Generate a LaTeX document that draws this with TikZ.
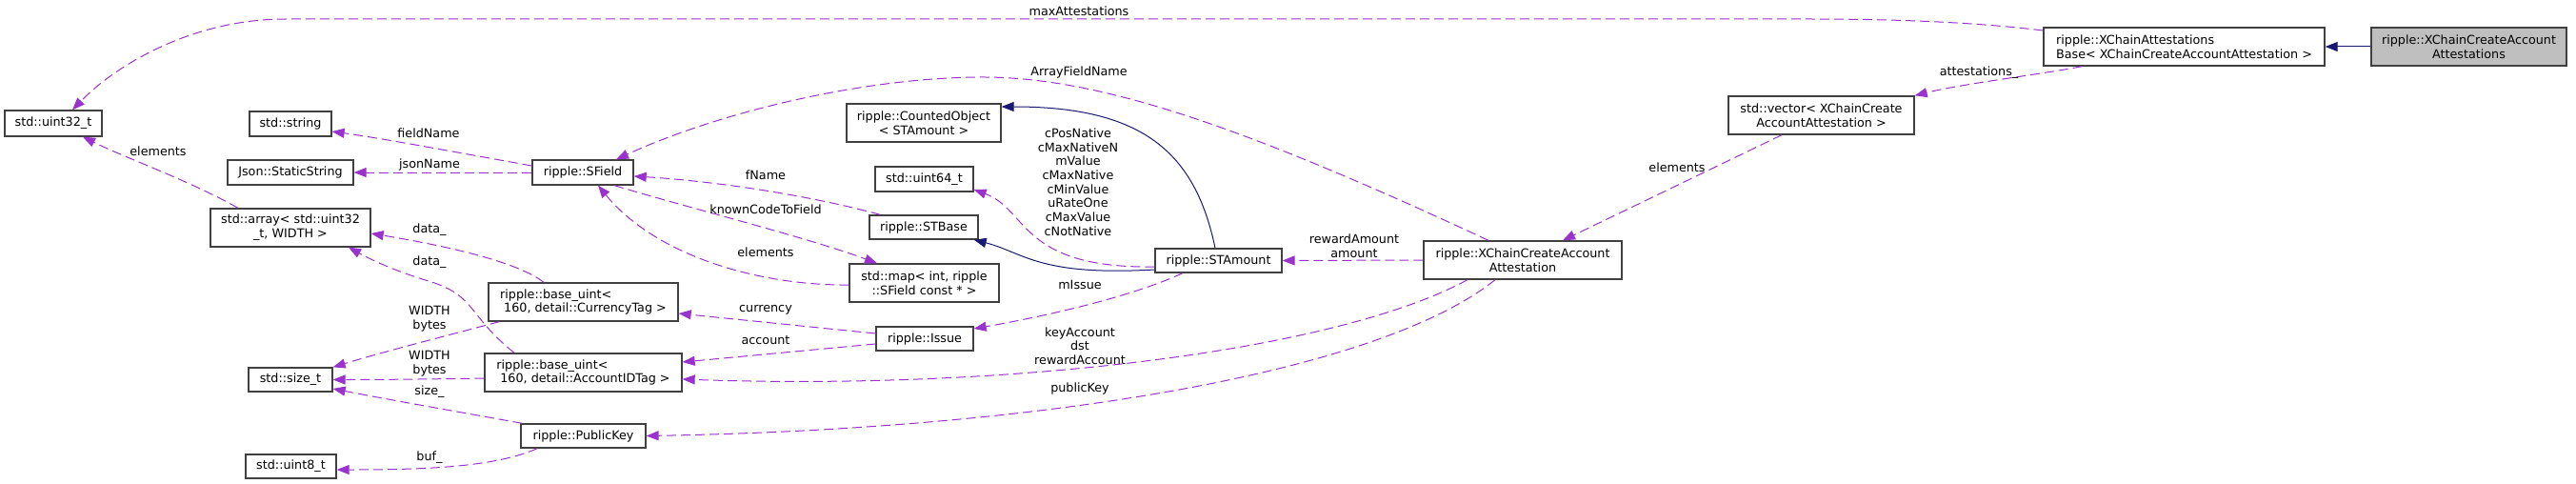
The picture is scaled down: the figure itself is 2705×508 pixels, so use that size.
\documentclass[tikz,border=0pt]{standalone}
\usepackage{fontspec}
\setmainfont{DejaVu Sans}
\usetikzlibrary{arrows.meta,calc}
\definecolor{edgep}{HTML}{9A32CD}
\definecolor{edgeb}{HTML}{191970}
\definecolor{boxline}{HTML}{404040}
\definecolor{greyfill}{HTML}{BFBFBF}
\begin{document}
\begin{tikzpicture}[x=1pt,y=-1pt,
  every node/.style={font=\fontsize{12.75}{14.7}\selectfont},
  cls/.style={draw=boxline, line width=1.3pt, fill=white, inner sep=0pt, align=center},
  dep/.style={draw=edgep, line width=1pt, dash pattern=on 10pt off 5pt, -{Triangle[length=13pt,width=10pt]}},
  inh/.style={draw=edgeb, line width=1pt, -{Triangle[length=13pt,width=10pt]}},
  lbl/.style={inner sep=0pt, align=center}]
\useasboundingbox[fill=white] (0,0) rectangle (2705,508);

% nodes
\node[cls, fill=greyfill, minimum width=205pt, minimum height=40pt] (grey) at (2592.5,49) {ripple::XChainCreateAccount\\Attestations};
\node[cls, align=left, minimum width=295pt, minimum height=40pt] (base) at (2293.5,49) {ripple::XChainAttestations\\Base< XChainCreateAccountAttestation >};
\node[cls, minimum width=195pt, minimum height=40pt] (vector) at (1912.5,121) {std::vector< XChainCreate\\AccountAttestation >};
\node[cls, minimum width=208pt, minimum height=40pt] (attest) at (1599,273) {ripple::XChainCreateAccount\\Attestation};
\node[cls, minimum width=133pt, minimum height=25pt] (stamount) at (1279.5,273.5) {ripple::STAmount};
\node[cls, minimum width=162pt, minimum height=40pt] (counted) at (970,129) {ripple::CountedObject\\< STAmount >};
\node[cls, minimum width=103pt, minimum height=26pt] (uint64) at (970.5,188) {std::uint64\_t};
\node[cls, minimum width=114pt, minimum height=25pt] (stbase) at (970,238.5) {ripple::STBase};
\node[cls, minimum width=157pt, minimum height=40pt] (map) at (970.5,297) {std::map< int, ripple\\::SField const * >};
\node[cls, minimum width=102pt, minimum height=25pt] (issue) at (971,355.5) {ripple::Issue};
\node[cls, minimum width=106pt, minimum height=26pt] (sfield) at (612,181) {ripple::SField};
\node[cls, align=left, minimum width=199pt, minimum height=40pt] (currency) at (612.5,317) {ripple::base\_uint<\\\hspace*{4pt}160, detail::CurrencyTag >};
\node[cls, align=left, minimum width=207pt, minimum height=40pt] (account) at (612.5,391) {ripple::base\_uint<\\\hspace*{4pt}160, detail::AccountIDTag >};
\node[cls, minimum width=131pt, minimum height=25pt] (pubkey) at (612.5,457.5) {ripple::PublicKey};
\node[cls, minimum width=102pt, minimum height=27pt] (uint32) at (56,129.5) {std::uint32\_t};
\node[cls, minimum width=86pt, minimum height=26pt] (string) at (305,130) {std::string};
\node[cls, minimum width=132pt, minimum height=26pt] (json) at (305,181) {Json::StaticString};
\node[cls, minimum width=168pt, minimum height=40pt] (array) at (305,239) {std::array< std::uint32\\\_t, WIDTH >};
\node[cls, minimum width=88pt, minimum height=25pt] (sizet) at (305,398.5) {std::size\_t};
\node[cls, minimum width=95pt, minimum height=25pt] (uint8) at (305.5,489.5) {std::uint8\_t};

% inheritance
\draw[inh] (grey.west) -- (base.east);
\draw[inh] ([xshift=-3.5pt]stamount.north) .. controls (1255,160) and (1200,112) .. ([yshift=17pt]counted.east);
\draw[inh] ([yshift=-9.5pt]stamount.west) .. controls (1090,290) and (1075,265) .. ([xshift=-5pt]stbase.south east);

% usage
\draw[dep] ([yshift=17pt]base.west) .. controls (2080,24) and (2000,20) .. (1900,20) -- (300,20) .. controls (200,20) and (120,70) .. ([xshift=20pt]uint32.north);
\node[lbl] (lmax) at (1133,12) {maxAttestations};

\draw[dep] ([xshift=41pt]base.south west) .. controls (2150,77) and (2060,88) .. (vector.north east);
\node[lbl] (latt) at (2078,76) {attestations\_};

\draw[dep] ([xshift=-41.5pt]vector.south) -- ([xshift=42pt]attest.north);
\node[lbl] (lel1) at (1761,176) {elements};

\draw[dep] ([xshift=-36pt]attest.north) .. controls (1300,130) and (1150,80) .. (1028,81) .. controls (900,82) and (750,120) .. ([xshift=35pt]sfield.north);
\node[lbl] (larr) at (1133,76) {ArrayFieldName};

\draw[dep] (attest.west) -- (stamount.east);
\node[lbl] (lrew) at (1422,258) {rewardAmount\\amount};

\draw[dep] ([xshift=-58pt]attest.south) .. controls (1400,370) and (1050,410) .. ([yshift=-7pt]account.east);
\node[lbl] (lkey) at (1134,363) {keyAccount\\dst\\rewardAccount};

\draw[dep] ([xshift=-29pt]attest.south) .. controls (1450,390) and (1100,450) .. (pubkey.east);
\node[lbl] (lpub) at (1134,408) {publicKey};

\draw[dep] ([yshift=-6.5pt]stamount.west) .. controls (1070,282) and (1080,220) .. ([yshift=-11pt]uint64.east);
\node[lbl] (lmem) at (1132,191) {cPosNative\\cMaxNativeN\\mValue\\cMaxNative\\cMinValue\\uRateOne\\cMaxValue\\cNotNative};

\draw[dep] ([xshift=-37.5pt]stamount.south) .. controls (1180,315) and (1080,335) .. ([yshift=10.5pt]issue.east);
\node[lbl] (lmis) at (1134,299) {mIssue};

\draw[dep] ([xshift=12pt]stbase.north west) .. controls (850,205) and (750,190) .. ([yshift=-4pt]sfield.east);
\node[lbl] (lfn) at (804,184) {fName};

\draw[dep] ([yshift=-2pt]map.west) .. controls (800,300) and (690,270) .. ([xshift=16pt]sfield.south);
\node[lbl] (lel2) at (804,265) {elements};

\draw[dep] ([xshift=33pt]sfield.south) .. controls (730,220) and (850,250) .. ([xshift=-49.5pt]map.north);
\node[lbl] (lkc) at (804,220) {knownCodeToField};

\draw[dep] ([yshift=5.5pt]issue.west) -- ([yshift=-12pt]currency.east);
\node[lbl] (lcur) at (804,325) {currency};

\draw[dep] ([yshift=-5.5pt]issue.west) -- ([yshift=11pt]account.east);
\node[lbl] (lacc) at (804,357) {account};

\draw[dep] ([yshift=7pt]sfield.west) .. controls (480,160) and (400,145) .. ([yshift=-8pt]string.east);
\node[lbl] (lfield) at (450,140) {fieldName};

\draw[dep] (sfield.west) -- (json.east);
\node[lbl] (ljson) at (451,173) {jsonName};

\draw[dep] ([xshift=-55pt]array.north) .. controls (200,190) and (130,165) .. ([xshift=31pt]uint32.south);
\node[lbl] (lel3) at (166,159) {elements};

\draw[dep] ([xshift=-41.5pt]currency.north) .. controls (540,272) and (450,255) .. ([yshift=-6pt]array.east);
\node[lbl] (ldat1) at (451,241) {data\_};

\draw[dep] ([xshift=-72.5pt]account.north) .. controls (490,330) and (500,310) .. (450,295) .. controls (410,283) and (385,270) .. ([xshift=61pt]array.south);
\node[lbl] (ldat2) at (451,275) {data\_};

\draw[dep] ([xshift=12pt]currency.south west) .. controls (470,352) and (400,370) .. (sizet.north east);
\node[lbl] (lw1) at (451,335) {WIDTH\\bytes};

\draw[dep] ([yshift=-6pt]account.west) .. controls (450,398) and (400,398.5) .. (sizet.east);
\node[lbl] (lw2) at (451,382) {WIDTH\\bytes};

\draw[dep] ([xshift=2pt]pubkey.north west) .. controls (480,432) and (400,418) .. ([yshift=-9.5pt]sizet.east);
\node[lbl] (lsize) at (451,411) {size\_};

\draw[dep] ([xshift=18pt]pubkey.south west) .. controls (520,490) and (450,493) .. ([yshift=-3.5pt]uint8.east);
\node[lbl] (lbuf) at (451,480) {buf\_};
\end{tikzpicture}
\end{document}
